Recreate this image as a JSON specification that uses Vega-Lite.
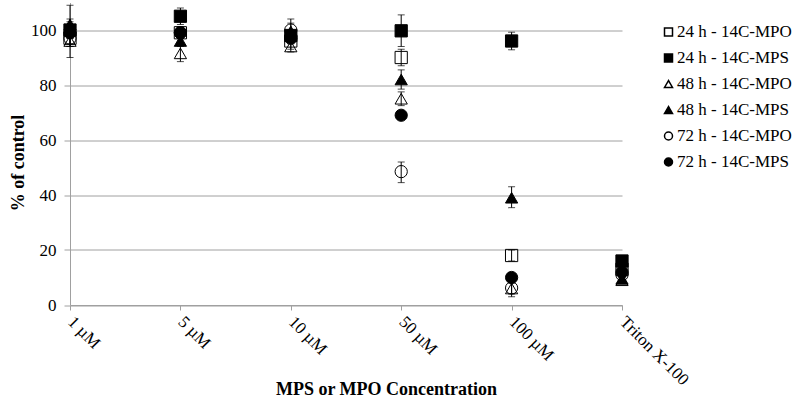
{
  "$schema": "https://vega.github.io/schema/vega-lite/v6.json",
  "width": 552,
  "height": 302.5,
  "autosize": "none",
  "padding": {"left": 70, "top": 2.5, "right": 178, "bottom": 97},
  "background": "white",
  "config": {
    "view": {"stroke": null},
    "font": "Liberation Serif",
    "axis": {"labelFont": "Liberation Serif", "titleFont": "Liberation Serif", "labelColor": "black", "titleColor": "black"},
    "legend": {"labelFont": "Liberation Serif"}
  },
  "data": {
    "values": [
      {"conc": "1 µM", "series": "24 h - 14C-MPO", "v": 97, "lo": 94, "hi": 100},
      {"conc": "1 µM", "series": "24 h - 14C-MPS", "v": 100, "lo": 97, "hi": 103},
      {"conc": "1 µM", "series": "48 h - 14C-MPO", "v": 96, "lo": 94, "hi": 98},
      {"conc": "1 µM", "series": "48 h - 14C-MPS", "v": 102, "lo": 95, "hi": 109},
      {"conc": "1 µM", "series": "72 h - 14C-MPO", "v": 97, "lo": 90, "hi": 104},
      {"conc": "1 µM", "series": "72 h - 14C-MPS", "v": 99, "lo": 97, "hi": 101},
      {"conc": "5 µM", "series": "24 h - 14C-MPO", "v": 99, "lo": 97, "hi": 101},
      {"conc": "5 µM", "series": "24 h - 14C-MPS", "v": 105, "lo": 102, "hi": 108},
      {"conc": "5 µM", "series": "48 h - 14C-MPO", "v": 91.5, "lo": 88.5, "hi": 94.5},
      {"conc": "5 µM", "series": "48 h - 14C-MPS", "v": 96, "lo": 94, "hi": 98},
      {"conc": "5 µM", "series": "72 h - 14C-MPO", "v": 99, "lo": 97, "hi": 101},
      {"conc": "5 µM", "series": "72 h - 14C-MPS", "v": 99, "lo": 97, "hi": 101},
      {"conc": "10 µM", "series": "24 h - 14C-MPO", "v": 96, "lo": 93, "hi": 99},
      {"conc": "10 µM", "series": "24 h - 14C-MPS", "v": 98, "lo": 96, "hi": 100},
      {"conc": "10 µM", "series": "48 h - 14C-MPO", "v": 94, "lo": 92, "hi": 96},
      {"conc": "10 µM", "series": "48 h - 14C-MPS", "v": 99.5, "lo": 96.5, "hi": 102.5},
      {"conc": "10 µM", "series": "72 h - 14C-MPO", "v": 100, "lo": 96, "hi": 104},
      {"conc": "10 µM", "series": "72 h - 14C-MPS", "v": 97, "lo": 95, "hi": 99},
      {"conc": "50 µM", "series": "24 h - 14C-MPO", "v": 90, "lo": 87, "hi": 93},
      {"conc": "50 µM", "series": "24 h - 14C-MPS", "v": 99.7, "lo": 94, "hi": 105.5},
      {"conc": "50 µM", "series": "48 h - 14C-MPO", "v": 75, "lo": 72.5, "hi": 77.5},
      {"conc": "50 µM", "series": "48 h - 14C-MPS", "v": 82, "lo": 78.5, "hi": 85.5},
      {"conc": "50 µM", "series": "72 h - 14C-MPO", "v": 48.5, "lo": 44.5, "hi": 52},
      {"conc": "50 µM", "series": "72 h - 14C-MPS", "v": 69, "lo": 68, "hi": 70},
      {"conc": "100 µM", "series": "24 h - 14C-MPO", "v": 18, "lo": 16, "hi": 20},
      {"conc": "100 µM", "series": "24 h - 14C-MPS", "v": 96, "lo": 92.8, "hi": 99.2},
      {"conc": "100 µM", "series": "48 h - 14C-MPO", "v": 6, "lo": 4, "hi": 8},
      {"conc": "100 µM", "series": "48 h - 14C-MPS", "v": 39, "lo": 35.4, "hi": 43},
      {"conc": "100 µM", "series": "72 h - 14C-MPO", "v": 6.2, "lo": 3, "hi": 9},
      {"conc": "100 µM", "series": "72 h - 14C-MPS", "v": 10, "lo": 9, "hi": 11},
      {"conc": "Triton X-100", "series": "24 h - 14C-MPO", "v": 13, "lo": 12, "hi": 14},
      {"conc": "Triton X-100", "series": "24 h - 14C-MPS", "v": 16, "lo": 14, "hi": 18},
      {"conc": "Triton X-100", "series": "48 h - 14C-MPO", "v": 9, "lo": 8, "hi": 10},
      {"conc": "Triton X-100", "series": "48 h - 14C-MPS", "v": 9.5, "lo": 8.5, "hi": 10.5},
      {"conc": "Triton X-100", "series": "72 h - 14C-MPO", "v": 11, "lo": 10, "hi": 12},
      {"conc": "Triton X-100", "series": "72 h - 14C-MPS", "v": 12, "lo": 11, "hi": 13}
    ]
  },
  "encoding": {
    "x": {
      "field": "conc",
      "type": "ordinal",
      "sort": ["1 µM", "5 µM", "10 µM", "50 µM", "100 µM", "Triton X-100"],
      "scale": {"type": "point", "padding": 0},
      "axis": {
        "title": "MPS or MPO Concentration",
        "titleFont": "Liberation Serif",
        "labelFont": "Liberation Serif",
        "titleFontSize": 18,
        "titleFontWeight": "bold",
        "titleX": 316,
        "titleY": 84,
        "titleBaseline": "middle",
        "titleAlign": "center",
        "labelAngle": 45,
        "labelAlign": "left",
        "labelBaseline": "middle",
        "labelFontSize": 17,
        "labelPadding": 9,
        "tickSize": 5,
        "tickColor": "#a0a0a0",
        "domainColor": "#a0a0a0",
        "grid": false
      }
    }
  },
  "layer": [
    {
      "mark": {"type": "rule", "color": "black", "strokeWidth": 1},
      "encoding": {
        "y": {"field": "lo", "type": "quantitative", "scale": {"domain": [0, 110], "nice": false},
          "axis": {"title": "% of control", "titleFont": "Liberation Serif", "labelFont": "Liberation Serif", "values": [0, 20, 40, 60, 80, 100], "titleFontSize": 18, "titleFontWeight": "bold", "titleX": -52, "titleY": 160, "titleBaseline": "middle", "titleAlign": "center", "labelFontSize": 17, "labelPadding": 8, "tickSize": 6, "tickColor": "#a0a0a0", "domainColor": "#a0a0a0", "grid": true, "gridColor": "#a0a0a0"}},
        "y2": {"field": "hi"}
      }
    },
    {
      "mark": {"type": "tick", "color": "black", "size": 7, "thickness": 1},
      "encoding": {"y": {"field": "lo", "type": "quantitative"}}
    },
    {
      "mark": {"type": "tick", "color": "black", "size": 7, "thickness": 1},
      "encoding": {"y": {"field": "hi", "type": "quantitative"}}
    },
    {
      "mark": {"type": "point", "filled": true, "stroke": "black", "strokeWidth": 1, "size": 150, "opacity": 1},
      "encoding": {
        "y": {"field": "v", "type": "quantitative"},
        "shape": {
          "field": "series",
          "type": "nominal",
          "scale": {
            "domain": ["24 h - 14C-MPO", "24 h - 14C-MPS", "48 h - 14C-MPO", "48 h - 14C-MPS", "72 h - 14C-MPO", "72 h - 14C-MPS"],
            "range": ["square", "square", "triangle-up", "triangle-up", "circle", "circle"]
          },
          "legend": {
            "title": null,
            "orient": "none",
            "legendX": 590,
            "legendY": 21,
            "padding": 0,
            "symbolSize": 64,
            "labelFont": "Liberation Serif",
            "labelFontSize": 17,
            "labelOffset": 0,
            "rowPadding": 8,
            "labelColor": "black",
            "symbolOpacity": 1,
            "encode": {"symbols": {"update": {"stroke": {"value": "black"}, "strokeWidth": {"value": 1}, "opacity": {"value": 1}}}}
          }
        },
        "fill": {
          "field": "series",
          "type": "nominal",
          "scale": {
            "domain": ["24 h - 14C-MPO", "24 h - 14C-MPS", "48 h - 14C-MPO", "48 h - 14C-MPS", "72 h - 14C-MPO", "72 h - 14C-MPS"],
            "range": ["transparent", "black", "transparent", "black", "transparent", "black"]
          },
          "legend": {
            "title": null,
            "orient": "none",
            "legendX": 590,
            "legendY": 21,
            "padding": 0,
            "symbolSize": 64,
            "labelFont": "Liberation Serif",
            "labelFontSize": 17,
            "labelOffset": 0,
            "rowPadding": 8,
            "labelColor": "black",
            "symbolOpacity": 1,
            "encode": {"symbols": {"update": {"stroke": {"value": "black"}, "strokeWidth": {"value": 1}, "opacity": {"value": 1}}}}
          }
        }
      }
    }
  ]
}
